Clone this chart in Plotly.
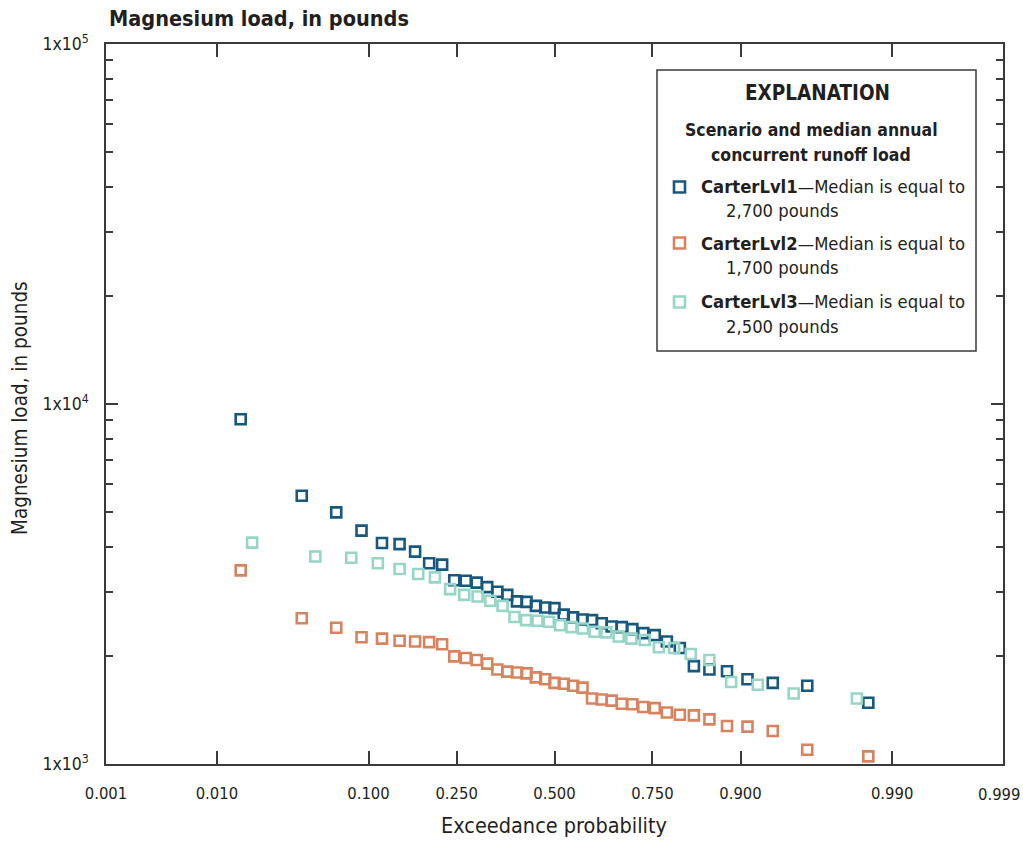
import plotly.graph_objects as go
from statistics import NormalDist

nd = NormalDist()

# ---------------- data ----------------
x_tick_probs = [0.001, 0.010, 0.100, 0.250, 0.500, 0.750, 0.900, 0.990, 0.999]
x_tick_text = ["0.001", "0.010", "0.100", "0.250", "0.500", "0.750", "0.900", "0.990", "0.999"]

y_tick_vals = [1e3, 1e4, 1e5]
y_tick_text = ["1x10<sup>3</sup>", "1x10<sup>4</sup>", "1x10<sup>5</sup>"]
y_minor_vals = [2000, 3000, 4000, 5000, 6000, 7000, 8000, 9000,
                20000, 30000, 40000, 50000, 60000, 70000, 80000, 90000]

series_names = ["CarterLvl1", "CarterLvl2", "CarterLvl3"]
series_medians = ["2,700", "1,700", "2,500"]

lvl1_prob = [0.0153, 0.0408, 0.0663, 0.0918, 0.1173, 0.1429, 0.1684, 0.1939, 0.2194, 0.2449,
             0.2704, 0.2959, 0.3214, 0.3469, 0.3724, 0.3980, 0.4235, 0.4490, 0.4745, 0.5000,
             0.5255, 0.5510, 0.5765, 0.6020, 0.6276, 0.6531, 0.6786, 0.7041, 0.7296, 0.7551,
             0.7806, 0.8061, 0.8316, 0.8571, 0.8827, 0.9082, 0.9337, 0.9592, 0.9847]
lvl1_load = [9070, 5560, 5000, 4450, 4110, 4080, 3890, 3610, 3580, 3240,
             3230, 3190, 3100, 3010, 2950, 2830, 2820, 2750, 2720, 2710,
             2600, 2555, 2520, 2510, 2460, 2410, 2400, 2370, 2310, 2280,
             2190, 2100, 1870, 1830, 1810, 1720, 1680, 1650, 1480]

lvl2_prob = [0.0153, 0.0408, 0.0663, 0.0918, 0.1173, 0.1429, 0.1684, 0.1939, 0.2194, 0.2449,
             0.2704, 0.2959, 0.3214, 0.3469, 0.3724, 0.3980, 0.4235, 0.4490, 0.4745, 0.5000,
             0.5255, 0.5510, 0.5765, 0.6020, 0.6276, 0.6531, 0.6786, 0.7041, 0.7296, 0.7551,
             0.7806, 0.8061, 0.8316, 0.8571, 0.8827, 0.9082, 0.9337, 0.9592, 0.9847]
lvl2_load = [3450, 2540, 2390, 2250, 2230, 2200, 2190, 2180, 2150, 1990,
             1970, 1945, 1900, 1830, 1805, 1795, 1785, 1740, 1720, 1680,
             1670, 1650, 1630, 1520, 1510, 1500, 1470, 1465, 1440, 1430,
             1390, 1370, 1365, 1330, 1275, 1270, 1235, 1095, 1050]

lvl3_prob = [0.0186, 0.0497, 0.0807, 0.1118, 0.1429, 0.1739, 0.2050, 0.2360, 0.2671, 0.2981,
             0.3292, 0.3602, 0.3913, 0.4224, 0.4534, 0.4845, 0.5155, 0.5466, 0.5776, 0.6087,
             0.6398, 0.6708, 0.7019, 0.7329, 0.7640, 0.7950, 0.8261, 0.8571, 0.8882, 0.9193,
             0.9503, 0.9814]
lvl3_load = [4120, 3770, 3740, 3610, 3480, 3370, 3300, 3060, 2950, 2920,
             2840, 2750, 2560, 2510, 2500, 2485, 2430, 2400, 2380, 2330,
             2320, 2260, 2230, 2210, 2110, 2100, 2020, 1945, 1690, 1660,
             1570, 1520]

colors = ["#17587e", "#d9825e", "#97d5c6"]

# ---------------- styling ----------------
FONT = "DejaVu Sans Condensed, Liberation Sans Narrow, Arial Narrow, sans-serif"
TXT = "#231f20"
AX = "#3a3a3a"

W, H = 1023, 841
L, R, T, B = 106, 20, 44, 77
PW, PH = W - L - R, H - T - B
XTICK_SIZE = 16.5


def probit(ps):
    return [nd.inv_cdf(p) for p in ps]


def px2x(px):
    return (px - L) / PW


def px2y(py):
    return (H - B - py) / PH


fig = go.Figure()
for name, prob, load, col in [
    (series_names[0], lvl1_prob, lvl1_load, colors[0]),
    (series_names[1], lvl2_prob, lvl2_load, colors[1]),
    (series_names[2], lvl3_prob, lvl3_load, colors[2]),
]:
    fig.add_trace(go.Scatter(
        x=probit(prob), y=load, mode="markers", name=name,
        marker=dict(symbol="square-open", size=10, color=col, line=dict(width=2.6, color=col)),
        showlegend=False,
        cliponaxis=False,
    ))

eps = 1e-6
xr = [nd.inv_cdf(x_tick_probs[0]) - eps, nd.inv_cdf(x_tick_probs[-1]) + eps]

# the last tick label sits at the right page edge; it is placed as a right-anchored
# annotation so that it stays fully inside the page
axis_tick_text = x_tick_text[:-1] + [""]

fig.update_layout(
    width=W, height=H,
    margin=dict(l=L, r=R, t=T, b=B, pad=0, autoexpand=False),
    paper_bgcolor="white", plot_bgcolor="white",
    font=dict(family=FONT, color=TXT, size=18),
    xaxis=dict(
        range=xr, tickmode="array", tickvals=probit(x_tick_probs), ticktext=axis_tick_text,
        ticks="inside", ticklen=13, tickwidth=1.5, tickcolor=AX,
        showline=True, linecolor=AX, linewidth=1.5, mirror="ticks",
        showgrid=False, zeroline=False, automargin=False,
        tickfont=dict(family=FONT, size=XTICK_SIZE, color=TXT),
        ticklabelstandoff=13, ticklabeloverflow="allow",
    ),
    yaxis=dict(
        type="log", range=[3, 5], tickmode="array", tickvals=y_tick_vals, ticktext=y_tick_text,
        ticks="inside", ticklen=12, tickwidth=1.5, tickcolor=AX,
        minor=dict(tickmode="array", tickvals=y_minor_vals, ticks="inside", ticklen=7,
                   tickwidth=1.5, tickcolor=AX, showgrid=False),
        showline=True, linecolor=AX, linewidth=1.5, mirror="ticks",
        showgrid=False, zeroline=False, automargin=False,
        tickfont=dict(family=FONT, size=17.5, color=TXT),
        ticklabelstandoff=12, ticklabeloverflow="allow",
    ),
)

ann = []
# last x tick label
ann.append(dict(text=x_tick_text[-1], x=px2x(1022), y=px2y(794),
                xanchor="right", yanchor="middle", font=dict(size=XTICK_SIZE)))
# chart title
ann.append(dict(text="<b>Magnesium load, in pounds</b>", x=px2x(107), y=px2y(19),
                xanchor="left", yanchor="middle", font=dict(size=21.5)))
# axis titles
ann.append(dict(text="Exceedance probability", x=px2x(554), y=px2y(826),
                xanchor="center", yanchor="middle", font=dict(size=21.5)))
ann.append(dict(text="Magnesium load, in pounds", x=px2x(20), y=px2y(408), textangle=-90,
                xanchor="center", yanchor="middle", font=dict(size=20.5)))

# explanation box
shapes = [dict(type="rect", xref="paper", yref="paper",
               x0=px2x(657), x1=px2x(976), y0=px2y(70), y1=px2y(351),
               line=dict(color=AX, width=1.5), fillcolor="white", layer="above")]
ann.append(dict(text="<b>EXPLANATION</b>", x=px2x(817), y=px2y(93),
                xanchor="center", yanchor="middle", font=dict(size=20.5)))
ann.append(dict(text="<b>Scenario and median annual</b>", x=px2x(811), y=px2y(130),
                xanchor="center", yanchor="middle", font=dict(size=17.5)))
ann.append(dict(text="<b>concurrent runoff load</b>", x=px2x(811), y=px2y(155),
                xanchor="center", yanchor="middle", font=dict(size=17.5)))

item_y = [187, 243, 302]
for i in range(3):
    yc = item_y[i]
    shapes.append(dict(type="rect", xref="paper", yref="paper",
                       x0=px2x(674), x1=px2x(685), y0=px2y(yc - 5.5), y1=px2y(yc + 5.5),
                       line=dict(color=colors[i], width=2.6), fillcolor="rgba(0,0,0,0)",
                       layer="above"))
    ann.append(dict(text=f"<b>{series_names[i]}</b>\u2014Median is equal to",
                    x=px2x(699), y=px2y(yc), xanchor="left", yanchor="middle",
                    font=dict(size=18.3)))
    ann.append(dict(text=f"{series_medians[i]} pounds",
                    x=px2x(724), y=px2y(yc + 24), xanchor="left", yanchor="middle",
                    font=dict(size=18.3)))

for a in ann:
    a.update(xref="paper", yref="paper", showarrow=False)
    a.setdefault("font", {})
    a["font"].setdefault("family", FONT)
    a["font"].setdefault("color", TXT)

fig.update_layout(annotations=ann, shapes=shapes)

fig.write_html("out.html")
